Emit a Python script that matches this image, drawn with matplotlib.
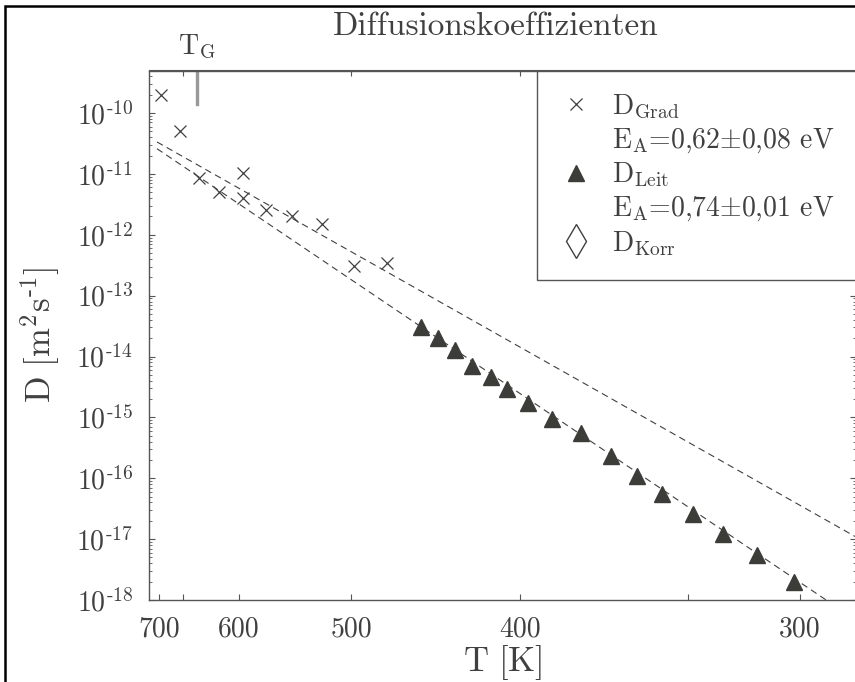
import matplotlib
matplotlib.use('Agg')
import matplotlib.pyplot as plt
import matplotlib.transforms as mtransforms
from matplotlib.lines import Line2D
from matplotlib.ticker import LogLocator, NullFormatter
import numpy as np

plt.rcParams['mathtext.fontset'] = 'cm'
plt.rcParams['font.family'] = 'serif'
plt.rcParams['font.serif'] = ['cmr10']
plt.rcParams['axes.unicode_minus'] = False

TEXT = '#404040'
SPINE = '#555555'

# D_Grad (crosses)
T_grad = [697, 671, 646, 622, 596, 596, 573, 548, 523, 498, 475]
D_grad = [2.0e-10, 5.1e-11, 8.6e-12, 5.1e-12, 1.04e-11, 4.0e-12,
          2.6e-12, 2.0e-12, 1.5e-12, 3.1e-13, 3.4e-13]

# D_Leit (triangles)
T_leit = [453, 443, 433.5, 424, 414, 406, 396, 385, 373, 361, 351,
          342, 331.5, 322, 312, 301.6]
D_leit = [3.1e-14, 2.0e-14, 1.26e-14, 6.9e-15, 4.6e-15, 2.9e-15,
          1.7e-15, 9.3e-16, 5.5e-16, 2.3e-16, 1.1e-16, 5.5e-17,
          2.6e-17, 1.2e-17, 5.5e-18, 2.0e-18]

# Arrhenius fits: D = D0 * exp(-Ea / kT)
Ea_grad, logD0_grad = 0.62, -6.03
Ea_leit, logD0_leit = 0.74, -5.28
T_fit = [703, 285]
T_G = 649
kB = 8.617e-5

T_ticks = [700, 600, 500, 400, 300]
inv_ticks_extra = [1.5, 3.0]
decades = list(range(-18, -9))

fig = plt.figure(figsize=(8.55, 6.82), dpi=100)
ax = fig.add_axes([149.4/855, 1 - 600/682, 706.8/855, 529.5/682])

x_grad = 1000/np.array(T_grad)
x_leit = 1000/np.array(T_leit)
ax.plot(x_grad, D_grad, ls='none', marker='x', ms=8, mew=0.9, color=TEXT)
ax.plot(x_leit, D_leit, ls='none', marker='^', ms=12, color='#3c3c38')

v = np.linspace(1000/T_fit[0], 1000/T_fit[1], 100)
for Ea, logD0 in [(Ea_grad, logD0_grad), (Ea_leit, logD0_leit)]:
    ax.plot(v, 10**logD0*np.exp(-Ea*v/(kB*1000)), ls=(0, (6, 4)), lw=0.8, color=TEXT)

# glass temperature marker
ax.axvline(1000/T_G, ymin=0.937, ymax=1.0, color='#999999', lw=2.4)
trans = mtransforms.blended_transform_factory(ax.transData, ax.transAxes)
ax.text(1000/T_G, 1.03, r'$\mathrm{T_G}$', transform=trans, ha='center', va='baseline',
        fontsize=20, color=TEXT)

ax.set_yscale('log')
ax.set_xlim(1.4, 3.5)
ax.set_ylim(1e-18, 5e-10)

ax.set_yticks([10.0**e for e in decades])
ax.set_yticklabels([r'$10^{\text{-}%d}$' % (-e) for e in decades])
ax.yaxis.set_minor_locator(LogLocator(base=10, subs=np.arange(2, 10), numticks=50))
ax.yaxis.set_minor_formatter(NullFormatter())

xt = sorted([1000/t for t in T_ticks] + inv_ticks_extra)
labs = {round(1000/t, 4): str(t) for t in T_ticks}
ax.set_xticks(xt)
ax.set_xticklabels([labs.get(round(x, 4), '') for x in xt])

ax.tick_params(which='both', direction='in', left=True, right=True, top=False,
               color=SPINE, labelcolor=TEXT, labelsize=20)
ax.tick_params(axis='y', which='major', length=4, pad=12)
ax.tick_params(axis='y', which='minor', length=2)
ax.tick_params(axis='x', which='major', length=4, pad=12)

sec = ax.secondary_xaxis('top')
sec.set_xticks([1.5, 2.0, 2.5, 3.0])
sec.set_xticklabels([])
sec.tick_params(direction='in', length=4, color=SPINE)
sec.spines['top'].set_color(SPINE)

for s in ax.spines.values():
    s.set_color(SPINE)
    s.set_linewidth(1.0)

ax.set_xlabel(r'$\mathrm{T\ [K]}$', fontsize=25, color=TEXT, labelpad=0)
ax.set_ylabel(r'$\mathrm{D\ [m^{2}s^{\text{-}1}]}$', fontsize=25, color=TEXT, labelpad=10)

fig.text(496/855, 1 - 35/682, 'Diffusionskoeffizienten', ha='center', va='baseline',
         fontsize=24, color=TEXT)

handles = [Line2D([], [], ls='none', marker='x', ms=8, mew=0.9, color=TEXT),
           Line2D([], [], ls='none'),
           Line2D([], [], ls='none', marker='^', ms=12, color='#3c3c38'),
           Line2D([], [], ls='none'),
           Line2D([], [], ls='none', marker='d', ms=17, mfc='none', mec=TEXT, mew=1.0)]
labels = [r'$\mathrm{D_{Grad}}$',
          r'$\mathrm{E_A}\text{=0,62}{\pm}\text{0,08 eV}$',
          r'$\mathrm{D_{Leit}}$',
          r'$\mathrm{E_A}\text{=0,74}{\pm}\text{0,01 eV}$',
          r'$\mathrm{D_{Korr}}$']
leg = ax.legend(handles, labels, loc='upper right', borderaxespad=0, fancybox=False,
                framealpha=1, edgecolor=SPINE, fontsize=20, handlelength=1.2,
                handletextpad=0.7, labelspacing=0.2, borderpad=0.8)
leg.get_frame().set_linewidth(1.0)
for t in leg.get_texts():
    t.set_color(TEXT)

# outer frame of the figure
fig.add_artist(plt.Rectangle((5/855, -0.1), 1.2, 1.1 - 6/682, transform=fig.transFigure,
                             fill=False, ec='black', lw=1.8))

fig.savefig('out.png', dpi=100)
